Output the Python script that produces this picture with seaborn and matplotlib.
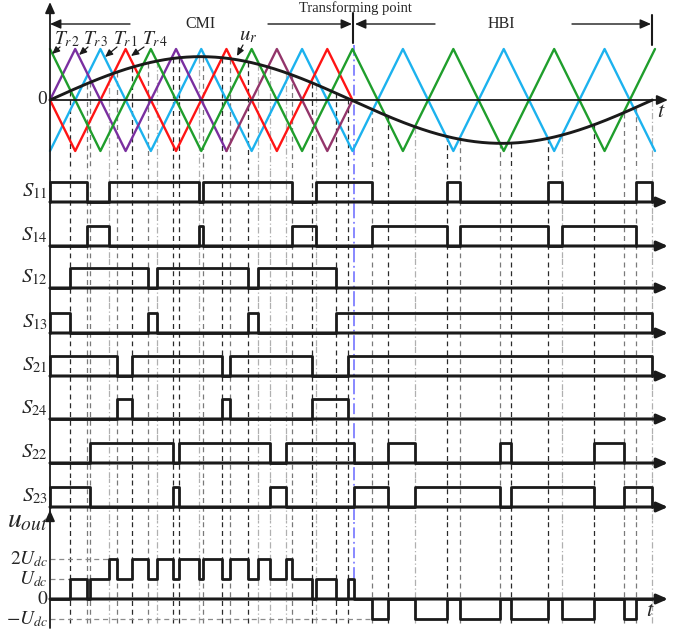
import numpy as np
import pandas as pd
import matplotlib
matplotlib.use("Agg")
import matplotlib.pyplot as plt
import seaborn as sns

sns.set_theme(style="white")
plt.rcParams["font.family"] = ["Liberation Serif", "DejaVu Serif"]
plt.rcParams["mathtext.fontset"] = "stix"

# ---------------- data (time in electrical degrees) ----------------
tr2_t = [0, 30, 60, 90, 120, 150, 180, 210, 240, 270, 300, 330, 360]
tr2_v = [1, -1, 1, -1, 1, -1, 1, -1, 1, -1, 1, -1, 1]
tr1_t = [0, 30, 60, 90, 120, 150, 180, 210, 240, 270, 300, 330, 360]
tr1_v = [-1, 1, -1, 1, -1, 1, -1, 1, -1, 1, -1, 1, -1]
tr3_t = [0, 15, 45, 75, 105, 135, 165, 180]
tr3_v = [0, 1, -1, 1, -1, 1, -1, 0]
tr4_t = [0, 15, 45, 75, 105, 135, 165, 180]
tr4_v = [0, -1, 1, -1, 1, -1, 1, 0]
ur_amp = 0.85
ur_period = 358.4
transform_t = 181.1

S11_on = [(0, 22.0), (35.2, 88.8), (91.2, 144.2), (158.0, 191.8), (236.2, 243.7), (296.2, 304.7), (348.4, 358.4)]
S14_on = [(22.0, 35.2), (88.8, 91.2), (144.2, 158.0), (191.8, 236.2), (243.7, 296.2), (304.7, 348.4)]
S12_on = [(11.9, 58.5), (63.5, 118.0), (123.6, 169.9)]
S13_on = [(0, 11.9), (58.5, 63.5), (118.0, 123.6), (169.9, 358.4)]
S21_on = [(0, 39.6), (48.8, 102.6), (107.1, 156.0), (177.6, 358.4)]
S24_on = [(39.6, 48.8), (102.6, 107.1), (156.0, 177.6)]
S22_on = [(23.9, 72.9), (76.6, 131.2), (140.4, 181.1), (201.3, 217.2), (267.8, 274.1), (323.9, 341.6)]
S23_on = [(0, 23.9), (72.9, 76.6), (131.2, 140.4), (181.1, 201.3), (217.2, 267.8), (274.1, 323.9), (341.6, 358.4)]
row_names = ["11", "14", "12", "13", "21", "24", "22", "23"]
row_data = [S11_on, S14_on, S12_on, S13_on, S21_on, S24_on, S22_on, S23_on]

uout_t = [0, 11.9, 22.0, 23.9, 35.2, 39.6, 48.8, 58.5, 63.5, 72.9, 76.6, 88.8, 91.2, 102.6,
          107.1, 118.0, 123.6, 131.2, 140.4, 144.2, 156.0, 158.0, 169.9, 177.2, 181.1, 191.8,
          201.3, 217.2, 236.2, 243.7, 267.8, 274.1, 296.2, 304.7, 323.9, 341.6, 348.4, 358.4]
uout_lvl = [0, 1, 0, 1, 2, 1, 2, 1, 2, 1, 2, 1, 2, 1, 2, 1, 2, 1, 2, 1, 0, 1, 0, 1, 0, -1,
            0, -1, 0, -1, 0, -1, 0, -1, 0, -1, 0]
uout_ticks = [2, 1, 0, -1]
uout_ticklabels = [r"$2U_{dc}$", r"$U_{dc}$", r"$0$", r"$-U_{dc}$"]

edge_t = [11.9, 22.0, 23.9, 35.2, 39.6, 48.8, 58.5, 63.5, 72.9, 76.6, 88.8, 91.2, 102.6, 107.1,
          118.0, 123.6, 131.2, 140.4, 144.2, 156.0, 158.0, 169.9, 177.6, 191.8, 201.3, 217.2,
          236.2, 243.7, 267.8, 274.1, 296.2, 304.7, 323.9, 341.6, 348.4, 358.4]
edge_style = [0, 1, 1, 2, 1, 0, 1, 2, 0, 0, 2, 1, 0, 1, 0, 2, 2, 2, 1, 0, 2, 0, 0, 1, 0, 2,
              0, 1, 1, 0, 0, 2, 0, 1, 1, 2]

# ---------------- layout ----------------
W, H = 684, 636
PX = 360.0 / 605.0
XL = (-50 * PX, 634 * PX)
X_ARROW = 618 * PX
fig = plt.figure(figsize=(W / 100, H / 100), dpi=100)

def band(top, bot, p0, scale):
    ax = fig.add_axes([0, 1 - bot / H, 1, (bot - top) / H])
    ax.set_xlim(*XL)
    ax.set_ylim((p0 - bot) / scale, (p0 - top) / scale)
    ax.axis("off")
    return ax

vstyles = {0: dict(color="#2a2a2a", dashes=(4, 3)),
           1: dict(color="#7a7a7a", dashes=(4, 3)),
           2: dict(color="#b0b0b0", dashes=(5, 2, 1, 2))}
ARW = dict(arrowstyle="-|>,head_length=0.5,head_width=0.22", color="k",
           mutation_scale=13, shrinkA=0, shrinkB=0)
BLUE_DD = dict(color="#7f7fff", lw=1.3, dashes=(6, 2, 1, 2), zorder=1)

def ur(t):
    return ur_amp * np.sin(2 * np.pi * np.asarray(t) / ur_period)

def vlines(ax, y0, y1, blue_lo=None):
    for t, s in zip(edge_t, edge_style):
        ax.plot([t, t], [y0, y1], lw=0.9, zorder=1, **vstyles[s])
    ax.plot([transform_t, transform_t], [y0 if blue_lo is None else blue_lo, y1], **BLUE_DD)

def line(ax, x, y, color, lw, z=3):
    sns.lineplot(x=np.asarray(x, float), y=np.asarray(y, float), ax=ax, color=color,
                 lw=lw, sort=False, estimator=None, legend=False, zorder=z)

# ---------------- carrier band ----------------
axc = band(0, 170, 100, 51)
y_bot = axc.get_ylim()[0]
for t, s in zip(edge_t, edge_style):
    axc.plot([t, t], [ur(t), y_bot], lw=0.9, zorder=1, **vstyles[s])
axc.plot([transform_t, transform_t], [(100 - 45) / 51, y_bot], **BLUE_DD)
GREEN, BLUE, RED, PURPLE, MAROON = "#1f9e2c", "#1cb2ee", "#ff1414", "#7a2fa0", "#93356a"
line(axc, tr1_t, tr1_v, BLUE, 1.7, 2)
line(axc, tr4_t, tr4_v, RED, 1.7, 2)
line(axc, tr3_t[:5], tr3_v[:5], PURPLE, 1.7, 2)
line(axc, tr3_t[4:], tr3_v[4:], MAROON, 1.7, 2)
line(axc, tr2_t, tr2_v, GREEN, 1.7, 2)
ts = np.linspace(0, ur_period, 500)
line(axc, ts, ur(ts), "k", 2.1, 4)
axc.annotate("", xy=(X_ARROW, 0), xytext=(0, 0), arrowprops=dict(ARW, lw=1.3), annotation_clip=False)
axc.annotate("", xy=(0, (100 - 2) / 51), xytext=(0, y_bot), arrowprops=dict(ARW, lw=1.3), annotation_clip=False)
axc.text(-3 * PX, 0, "0", ha="right", va="center", fontsize=14)
axc.text(363.5, -0.24, r"$t$", ha="center", va="center", fontsize=16)

def v(px):
    return (100 - px) / 51

def d(px):
    return (px - 50) * PX

yb = v(24)
axc.annotate("", xy=(0, yb), xytext=(d(130), yb), arrowprops=dict(ARW, lw=1.0), annotation_clip=False)
axc.annotate("", xy=(d(352), yb), xytext=(d(268), yb), arrowprops=dict(ARW, lw=1.0), annotation_clip=False)
axc.annotate("", xy=(d(355), yb), xytext=(d(435), yb), arrowprops=dict(ARW, lw=1.0), annotation_clip=False)
axc.annotate("", xy=(d(651), yb), xytext=(d(572), yb), arrowprops=dict(ARW, lw=1.0), annotation_clip=False)
axc.plot([d(353), d(353)], [v(13), v(43)], color="k", lw=1.5)
axc.plot([d(652), d(652)], [v(15), v(45)], color="k", lw=1.5)
axc.text(d(200), yb, "CMI", ha="center", va="center", fontsize=11.5)
axc.text(d(501), yb, "HBI", ha="center", va="center", fontsize=11.5)
axc.text(d(355), v(8), "Transforming point", ha="center", va="center", fontsize=10.5)

labels = [(r"$T_{r\,2}$", 54, (60, 47), (52, 54)),
          (r"$T_{r\,3}$", 83, (88, 47), (79, 55)),
          (r"$T_{r\,1}$", 113, (117, 47), (105, 57)),
          (r"$T_{r\,4}$", 142, (144, 47), (131, 56))]
for txt, xl, tail, tip in labels:
    axc.text(d(xl), v(39), txt, ha="left", va="center", fontsize=14)
    axc.annotate("", xy=(d(tip[0]), v(tip[1])), xytext=(d(tail[0]), v(tail[1])),
                 arrowprops=dict(ARW, lw=0.9, mutation_scale=9), annotation_clip=False)
axc.text(d(239), v(36), r"$u_r$", ha="left", va="center", fontsize=15)
axc.annotate("", xy=(d(237), v(56)), xytext=(d(243), v(45)),
             arrowprops=dict(ARW, lw=0.9, mutation_scale=9), annotation_clip=False)

# ---------------- switching rows ----------------
baselines = [202, 246, 288, 333, 376, 419, 463, 507]
bounds = [170, 214, 258, 302, 346, 390, 434, 478, 520]
for i, (name, on) in enumerate(zip(row_names, row_data)):
    ax = band(bounds[i], bounds[i + 1], baselines[i], 20)
    lo, hi = ax.get_ylim()
    vlines(ax, lo, hi)
    xs, ys = [], []
    for a, b in on:
        xs += [a, a, b, b]
        ys += [0, 1, 1, 0]
    if xs[0] > 0:
        xs = [0] + xs
        ys = [0] + ys
    line(ax, xs, ys, "k", 2.0, 4)
    ax.plot([0, 0], [lo, hi], color="k", lw=1.3, zorder=5)
    ax.annotate("", xy=(X_ARROW, 0), xytext=(0, 0), arrowprops=dict(ARW, lw=2.2), annotation_clip=False)
    ax.text(-2 * PX, 0.28, r"$S_{" + name + "}$", ha="right", va="baseline", fontsize=15)

# ---------------- u_out ----------------
axu = band(520, 636, 599, 20)
lo, hi = axu.get_ylim()
vlines(axu, -1.2, hi, blue_lo=1.05)
xs, ys = [], []
for i in range(len(uout_lvl)):
    xs += [uout_t[i], uout_t[i + 1]]
    ys += [uout_lvl[i], uout_lvl[i]]
line(axu, xs, ys, "k", 2.0, 4)
axu.annotate("", xy=(X_ARROW, 0), xytext=(0, 0), arrowprops=dict(ARW, lw=2.2), annotation_clip=False)
axu.annotate("", xy=(0, (599 - 510) / 20), xytext=(0, (599 - 628) / 20),
             arrowprops=dict(ARW, lw=1.3), annotation_clip=False)
for lvl, end in [(2, 35.2), (1, 11.9), (-1, 191.8)]:
    axu.plot([0, end], [lvl, lvl], color="#8a8a8a", lw=0.9, dashes=(4, 3), zorder=1)
for lvl, lab in zip(uout_ticks, uout_ticklabels):
    axu.text(-2 * PX, lvl, lab, ha="right", va="center", fontsize=14)
axu.text(-2 * PX, (599 - 521) / 20, r"$u_{out}$", ha="right", va="center", fontsize=20)
axu.text(357, -0.6, r"$t$", ha="center", va="center", fontsize=16)

fig.savefig("out.png", dpi=100)
